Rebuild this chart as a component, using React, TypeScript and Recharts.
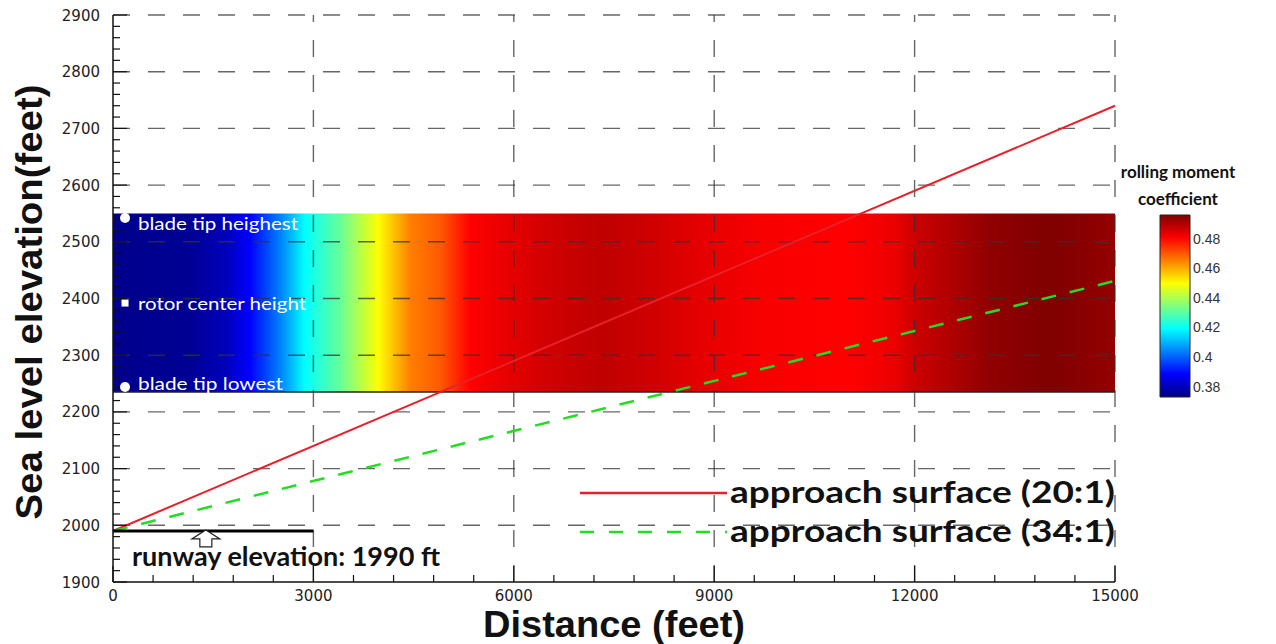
import React from 'react';
import {
  ComposedChart,
  Line,
  XAxis,
  YAxis,
  ReferenceArea,
  ReferenceLine,
  ReferenceDot,
  Legend,
} from 'recharts';

// axis ticks
const xMajor = [0, 3000, 6000, 9000, 12000, 15000];
const xMinorStep = 600;
const yMajor = [1900, 2000, 2100, 2200, 2300, 2400, 2500, 2600, 2700, 2800, 2900];
const yMinorStep = 20;
const gridX = [3000, 6000, 9000, 12000, 15000];
const gridY = [2000, 2100, 2200, 2300, 2400, 2500, 2600, 2700, 2800, 2900];

// approach surfaces (distance ft, elevation ft)
const surface20 = [
  { d: 0, v: 1990 },
  { d: 15000, v: 2740 },
];
const surface34 = [
  { d: 0, v: 1990 },
  { d: 15000, v: 2431 },
];

// runway
const runwayElevation = 1990;
const runwayEnd = 3000;

// rotor swept band
const bandBottom = 2235;
const bandTop = 2550;

// rolling moment coefficient along distance
const heatDistance = [0, 1150, 1680, 2050, 2500, 2870, 3400, 3970, 4450, 4900, 5350, 5950, 6700, 7300, 7900, 8800, 9700, 11030, 11700, 12000, 12530, 13130, 14030, 14630, 15000];
const heatCoef = [0.3745, 0.3755, 0.38, 0.3884, 0.4038, 0.4191, 0.4314, 0.4499, 0.4653, 0.4699, 0.4806, 0.4837, 0.4868, 0.4883, 0.4868, 0.4837, 0.4815, 0.4806, 0.483, 0.4868, 0.49, 0.494, 0.496, 0.4945, 0.4935];

// colour bar
const cbMin = 0.373;
const cbMax = 0.496;
const cbTicks = [0.38, 0.4, 0.42, 0.44, 0.46, 0.48];
const cbStops = [0, 0.125, 0.375, 0.625, 0.875, 1];
const cbRange = [
  { x: 0, c: cbMin },
  { x: 1, c: cbMax },
];

// annotated points
const markers = [
  { d: 180, v: 2542, label: 'blade tip heighest', kind: 'circle' },
  { d: 180, v: 2392, label: 'rotor center height', kind: 'square' },
  { d: 180, v: 2244, label: 'blade tip lowest', kind: 'circle' },
];
const markerLabelDy = [12, 7, 3];
const markerLabelWidth = [160, 168, 145];

const legendItems = [
  { name: 'approach surface (20:1)', color: '#e8202a', dash: undefined },
  { name: 'approach surface (34:1)', color: '#22dd22', dash: '14 15' },
];

const jet = (c: number) => {
  const t = Math.min(1, Math.max(0, (c - cbMin) / (cbMax - cbMin)));
  const ch = (k: number) => Math.round(255 * Math.min(1, Math.max(0, 1.5 - Math.abs(4 * t - k))));
  return `rgb(${ch(3)},${ch(2)},${ch(1)})`;
};

const range = (a: number, b: number, step: number) => {
  const out: number[] = [];
  for (let v = a; v <= b; v += step) out.push(v);
  return out;
};

const xTicks = range(xMajor[0], xMajor[xMajor.length - 1], xMinorStep);
const yTicks = range(yMajor[0], yMajor[yMajor.length - 1], yMinorStep);

const tickFont = "'DejaVu Sans', sans-serif";
const labelFont = "Lato, 'Open Sans', sans-serif";

const YTick = (props: any) => {
  const { x, y, payload } = props;
  const v = payload.value;
  const major = yMajor.includes(v);
  return (
    <g>
      <line x1={x} x2={x + (major ? 14 : 7)} y1={y} y2={y} stroke="#111" strokeWidth={1.2} />
      {major && (
        <text x={x - 13} y={y + 5.5} textAnchor="end" fontFamily={tickFont} fontSize={15} fill="#222">
          {v}
        </text>
      )}
    </g>
  );
};

const XTick = (props: any) => {
  const { x, y, payload } = props;
  const v = payload.value;
  const major = xMajor.includes(v);
  return (
    <g>
      <line x1={x} x2={x} y1={y} y2={y - (major ? 16 : 7)} stroke="#111" strokeWidth={1.2} />
      {major && (
        <text x={x} y={y + 19} textAnchor="middle" fontFamily={tickFont} fontSize={15} fill="#222">
          {v}
        </text>
      )}
    </g>
  );
};

const MarkerShape = (i: number) => (props: any) => {
  const { cx, cy } = props;
  const m = markers[i];
  return (
    <g>
      {m.kind === 'circle' ? (
        <circle cx={cx} cy={cy} r={5} fill="#fff" />
      ) : (
        <rect x={cx - 3.5} y={cy - 3.5} width={7} height={7} fill="#fff" />
      )}
      <text
        x={cx + 13}
        y={cy + markerLabelDy[i]}
        fontFamily={labelFont}
        fontSize={17}
        fill="#fff"
        textLength={markerLabelWidth[i]}
        lengthAdjust="spacingAndGlyphs"
      >
        {m.label}
      </text>
    </g>
  );
};

const ArrowShape = (props: any) => {
  const { cx, cy } = props;
  const p = `M${cx},${cy - 9} L${cx + 14},${cy} L${cx + 6},${cy} L${cx + 6},${cy + 8} L${cx - 6},${cy + 8} L${cx - 6},${cy} L${cx - 14},${cy} Z`;
  return <path d={p} fill="#fff" stroke="#222" strokeWidth={1.2} />;
};

const RunwayLabel = (props: any) => {
  const { viewBox } = props;
  return (
    <text
      x={viewBox.x + 19}
      y={viewBox.y + 35}
      fontFamily={labelFont}
      fontWeight="bold"
      fontSize={26}
      fill="#111"
      textLength={308}
      lengthAdjust="spacingAndGlyphs"
    >
      runway elevation: 1990 ft
    </text>
  );
};

const LegendContent = () => (
  <svg width={560} height={95}>
    {legendItems.map((item, i) => (
      <g key={item.name}>
        <line x1={5} x2={152} y1={28 + i * 39} y2={28 + i * 39} stroke={item.color} strokeWidth={2.5} strokeDasharray={item.dash} />
        <text
          x={155}
          y={38 + i * 39}
          fontFamily={labelFont}
          fontWeight="bold"
          fontSize={31}
          fill="#111"
          textLength={385}
          lengthAdjust="spacingAndGlyphs"
        >
          {item.name}
        </text>
      </g>
    ))}
  </svg>
);

const App: React.FC = () => {
  return (
    <div style={{ position: 'absolute', left: 0, top: 0, width: 1276, height: 644, background: '#fff' }}>
      <ComposedChart width={1276} height={644} margin={{ top: 15, right: 161, bottom: 0, left: 0 }}>
        <defs>
          <linearGradient id="heat" x1="0" y1="0" x2="1" y2="0">
            {heatDistance.map((d, i) => (
              <stop key={d} offset={d / 15000} stopColor={jet(heatCoef[i])} />
            ))}
          </linearGradient>
        </defs>
        <XAxis
          type="number"
          dataKey="d"
          domain={[0, 15000]}
          ticks={xTicks}
          interval={0}
          tickLine={false}
          tickSize={0}
          tickMargin={0}
          tick={XTick}
          height={62}
          axisLine={{ stroke: '#111', strokeWidth: 1.5 }}
          label={{
            content: () => (
              <text
                x={614}
                y={637}
                textAnchor="middle"
                fontFamily="'Liberation Sans', Arial, sans-serif"
                fontWeight="bold"
                fontSize={36}
                fill="#111"
                textLength={262}
                lengthAdjust="spacingAndGlyphs"
              >
                Distance (feet)
              </text>
            ),
          }}
        />
        <YAxis
          type="number"
          dataKey="v"
          domain={[1900, 2900]}
          ticks={yTicks}
          interval={0}
          tickLine={false}
          tickSize={0}
          tickMargin={0}
          tick={YTick}
          width={113}
          axisLine={{ stroke: '#111', strokeWidth: 1.5 }}
          label={{
            content: () => (
              <text
                x={42}
                y={302}
                transform="rotate(-90 42 302)"
                textAnchor="middle"
                fontFamily="'Liberation Sans', Arial, sans-serif"
                fontWeight="bold"
                fontSize={37}
                fill="#111"
                textLength={435}
                lengthAdjust="spacingAndGlyphs"
              >
                Sea level elevation(feet)
              </text>
            ),
          }}
        />
        <ReferenceArea
          x1={0}
          x2={15000}
          y1={bandBottom}
          y2={bandTop}
          fill="url(#heat)"
          fillOpacity={1}
          stroke="none"
          zIndex={100}
        />
        <ReferenceLine y={bandBottom} stroke="#222" strokeWidth={1.5} zIndex={110} />
        {gridY.map((v) => (
          <ReferenceLine key={`gy${v}`} y={v} stroke="#333" strokeOpacity={0.75} strokeWidth={1.4} strokeDasharray="17 18" zIndex={200} />
        ))}
        {gridX.map((v) => (
          <ReferenceLine key={`gx${v}`} x={v} stroke="#333" strokeOpacity={0.75} strokeWidth={1.4} strokeDasharray="17 18" zIndex={200} />
        ))}
        <Line
          data={surface20}
          dataKey="v"
          name="approach surface (20:1)"
          stroke="#e8202a"
          strokeWidth={2}
          dot={false}
          isAnimationActive={false}
          zIndex={300}
        />
        <Line
          data={surface34}
          dataKey="v"
          name="approach surface (34:1)"
          stroke="#22dd22"
          strokeWidth={2.5}
          strokeDasharray="15 14"
          dot={false}
          isAnimationActive={false}
          zIndex={400}
        />
        <ReferenceLine
          segment={[
            { x: 0, y: runwayElevation },
            { x: runwayEnd, y: runwayElevation },
          ]}
          stroke="#000"
          strokeWidth={3}
          zIndex={450}
          label={{ content: RunwayLabel }}
        />
        <ReferenceDot x={1390} y={1976} r={10} shape={ArrowShape} zIndex={460} />
        {markers.map((m, i) => (
          <ReferenceDot key={m.label} x={m.d} y={m.v} r={5} shape={MarkerShape(i)} zIndex={600} />
        ))}
        <Legend
          layout="horizontal"
          verticalAlign="middle"
          content={LegendContent}
          wrapperStyle={{ position: 'absolute', left: 575, top: 465, width: 560, height: 95 }}
        />
      </ComposedChart>

      <div
        style={{
          position: 'absolute',
          left: 1100,
          top: 158,
          width: 156,
          textAlign: 'center',
          fontFamily: labelFont,
          fontWeight: 'bold',
          fontSize: 17,
          lineHeight: '27px',
          color: '#111',
        }}
      >
        rolling moment
        <br />
        coefficient
      </div>

      <div style={{ position: 'absolute', left: 1150, top: 205 }}>
        <ComposedChart width={100} height={202} data={cbRange} margin={{ top: 10, right: 0, bottom: 10, left: 10 }}>
          <defs>
            <linearGradient id="cbar" x1="0" y1="1" x2="0" y2="0">
              {cbStops.map((t) => (
                <stop key={t} offset={t} stopColor={jet(cbMin + t * (cbMax - cbMin))} />
              ))}
            </linearGradient>
          </defs>
          <XAxis type="number" dataKey="x" domain={[0, 1]} hide />
          <YAxis
            type="number"
            dataKey="c"
            orientation="right"
            domain={[cbMin, cbMax]}
            ticks={cbTicks}
            interval={0}
            width={60}
            axisLine={false}
            tickLine={false}
            tickSize={0}
            tickMargin={3}
            tickFormatter={(v: number) => String(v)}
            tick={{ fontFamily: "'Liberation Sans', Arial, sans-serif", fontSize: 14, fill: '#333' }}
          />
          <ReferenceArea x1={0} x2={1} y1={cbMin} y2={cbMax} fill="url(#cbar)" fillOpacity={1} stroke="#222" strokeWidth={1} />
        </ComposedChart>
      </div>
    </div>
  );
};

export default App;
